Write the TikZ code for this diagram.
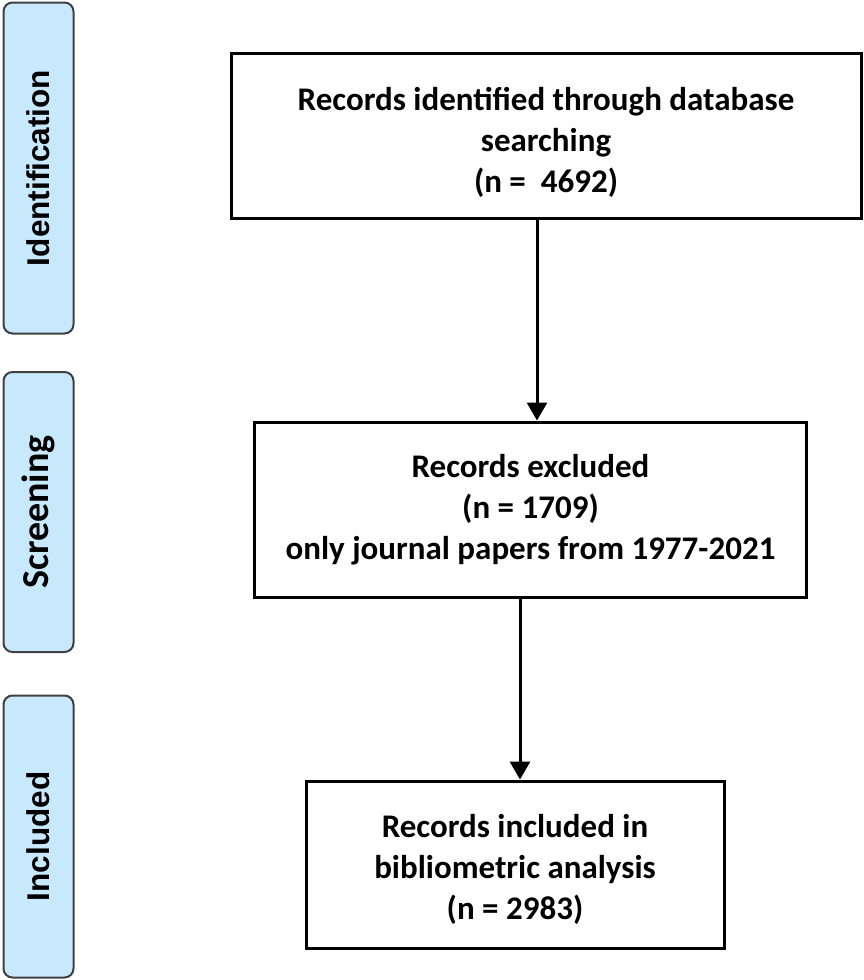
\documentclass[tikz,border=0pt]{standalone}
\usepackage{fontspec}
\setmainfont{Carlito}
\newfontfamily\arialbold{Liberation Sans Bold}
\usetikzlibrary{arrows.meta}
\definecolor{sidefill}{HTML}{C8E8FB}
\definecolor{sideedge}{HTML}{404040}
\tikzset{
  flowbox/.style={draw=black, line width=3pt, fill=white, inner sep=0pt, align=center,
    font=\fontsize{33}{41}\selectfont\bfseries},
  sidebox/.style={draw=sideedge, line width=2pt, fill=sidefill, rounded corners=9pt,
    rotate=90, inner sep=0pt, minimum height=70pt},
  arialside/.style={font=\arialbold\fontsize{31.5}{31.5}\selectfont},
  arr/.style={line width=3pt, -{Triangle[width=20pt,length=18pt]}}
}
\begin{document}
\begin{tikzpicture}[x=1pt,y=-1pt]
\useasboundingbox (0,0) rectangle (863,980);
% side phase boxes
\node[sidebox, arialside, minimum width=331pt] (id) at (38.5,168) {Identification};
\node[sidebox, minimum width=280pt, font=\fontsize{38}{38}\selectfont\bfseries] (sc) at (38.5,512) {Screening};
\node[sidebox, arialside, minimum width=282pt] (inc) at (38.5,836.5) {Included};
% flow boxes
\node[flowbox, minimum width=630pt, minimum height=165pt] (b1) at (546,135.5)
  {\rule{0pt}{36pt}Records identified through database\\searching\\(n =\ \ 4692)};
\node[flowbox, minimum width=552pt, minimum height=175pt] (b2) at (530.5,509.5)
  {Records excluded\\(n = 1709)\\only journal papers from 1977-2021};
\node[flowbox, minimum width=418pt, minimum height=167pt] (b3) at (515,864.5)
  {\rule{0pt}{32pt}Records included in\\bibliometric analysis\\(n = 2983)};
% connectors
\coordinate (x1) at (537,0);
\coordinate (x2) at (520,0);
\draw[arr] (b1.south -| x1) -- (b2.north -| x1);
\draw[arr] (b2.south -| x2) -- (b3.north -| x2);
\end{tikzpicture}
\end{document}
